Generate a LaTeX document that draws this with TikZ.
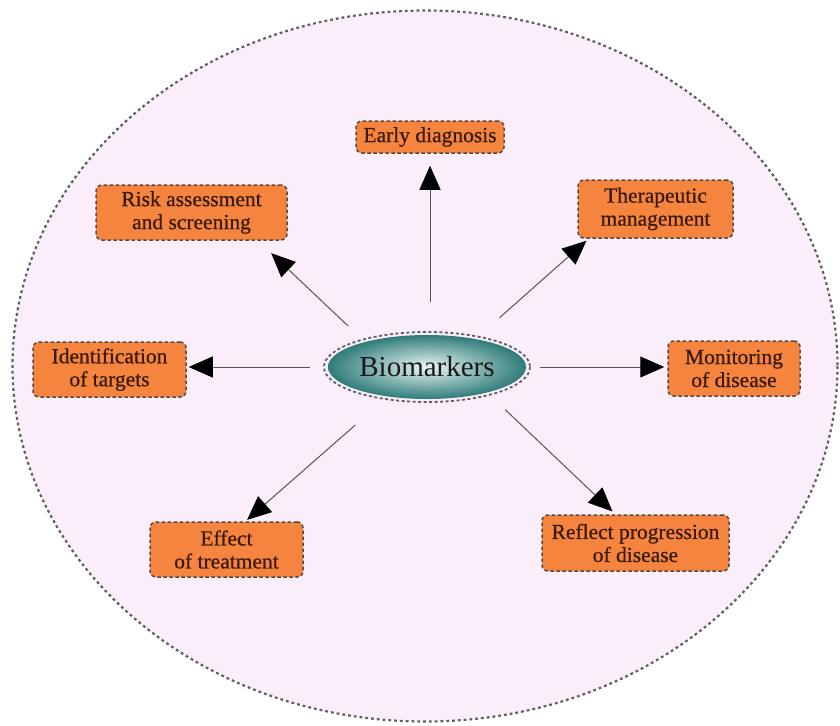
\documentclass[tikz,border=0pt]{standalone}
\usepackage{fontspec}
\setmainfont{Liberation Serif}
\newfontfamily\boxfont{Liberation Serif}[FakeBold=0.6]
\usetikzlibrary{arrows.meta,shapes.geometric}
\definecolor{bgpink}{HTML}{FBEEFB}
\definecolor{bgedge}{HTML}{606060}
\definecolor{boxfill}{HTML}{F5843F}
\definecolor{boxedge}{HTML}{55483F}
\definecolor{boxtext}{HTML}{3A1A0C}
\definecolor{tealin}{HTML}{EAF5F3}
\definecolor{tealout}{HTML}{2E7C79}
\definecolor{lineclr}{HTML}{555555}
\tikzset{
  infobox/.style={draw=boxedge, fill=boxfill, line width=1.5pt,
    dash pattern=on 3.5pt off 2.5pt, rounded corners=6pt, inner sep=2pt,
    align=center, text=boxtext, font=\boxfont\fontsize{21.5}{23}\selectfont},
  conn/.style={draw=lineclr, line width=1pt,
    -{Triangle[length=24pt,width=21pt,fill=black,color=black]}},
}
\begin{document}
\begin{tikzpicture}[x=1pt,y=-1pt]
\useasboundingbox (0,0) rectangle (840,725);
% background ellipse
\draw[fill=bgpink, draw=bgedge, line width=2.2pt, dash pattern=on 2.8pt off 3pt]
  (425,366) ellipse [x radius=412.5, y radius=355.5];
% center node
\node[ellipse, minimum width=198pt, minimum height=64pt, inner sep=0pt,
  shading=radial, inner color=tealin, outer color=tealout,
  font=\fontsize{29}{31}\selectfont, text=black!90] (bio) at (427,367) {Biomarkers};
\draw[draw=bgedge, line width=1.8pt, dash pattern=on 3pt off 2.5pt]
  (bio.center) ellipse [x radius=103, y radius=35];
% outer boxes
\node[infobox, minimum width=148pt, minimum height=32pt] (early) at (430,137) {Early diagnosis};
\node[infobox, minimum width=191pt, minimum height=55pt] (risk) at (191.5,212.5) {Risk assessment\\and screening};
\node[infobox, minimum width=155pt, minimum height=58pt] (thera) at (655.5,209) {Therapeutic\\management};
\node[infobox, minimum width=153pt, minimum height=55pt] (ident) at (109.5,369.5) {Identification\\of targets};
\node[infobox, minimum width=132pt, minimum height=55pt] (monitor) at (734,368.5) {Monitoring\\of disease};
\node[infobox, minimum width=153pt, minimum height=55pt] (effect) at (226.5,549.5) {Effect\\of treatment};
\node[infobox, minimum width=187pt, minimum height=56pt] (reflect) at (635.5,543) {Reflect progression\\of disease};
% connectors
\draw[conn, shorten <=33pt, shorten >=12pt] (bio.north -| early.south) -- (early.south);
\draw[conn, shorten <=23pt, shorten >=18pt] (bio.158) -- (risk.-23.6);
\draw[conn, shorten <=32pt, shorten >=3pt] (bio.30) -- (thera.204.7);
\draw[conn, shorten <=18pt, shorten >=2pt] (bio.west) -- (bio.west -| ident.east);
\draw[conn, shorten <=14pt, shorten >=3pt] (bio.east) -- (bio.east -| monitor.west);
\draw[conn, shorten <=43pt, shorten >=2pt] (bio.217) -- (effect.56);
\draw[conn, shorten <=25pt, shorten >=4pt] (bio.-23.3) -- (reflect.125.5);
\end{tikzpicture}
\end{document}
